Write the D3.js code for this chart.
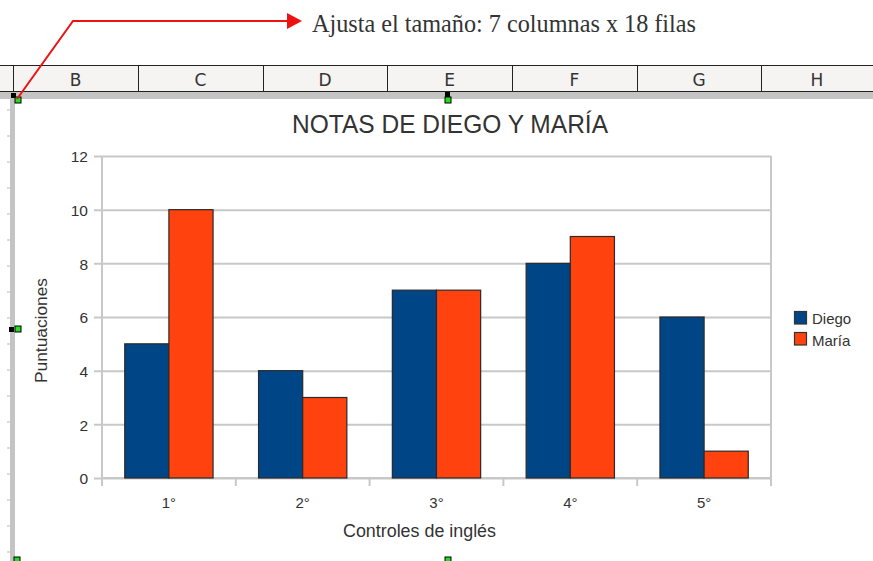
<!DOCTYPE html>
<html><head><meta charset="utf-8">
<script src="https://cdn.jsdelivr.net/npm/d3@7"></script>
<style>body{margin:0;background:#fff}svg{display:block}</style>
</head><body>
<svg id="c" width="873" height="561"></svg>
<script>
const categories = ["1°","2°","3°","4°","5°"];
const seriesNames = ["Diego","María"];
const diego = [5,4,7,8,6];
const maria = [10,3,7,9,1];
const yTicks = [0,2,4,6,8,10,12];
const columns = ["B","C","D","E","F","G","H"];
const colors = ["#004586","#ff420e"];

const svg = d3.select("#c");
const sans = "'Liberation Sans', Arial, sans-serif";

// spreadsheet column header
const colEdges = [13,138,263,387,512,637,761,873];
svg.append("rect").attr("x",0).attr("y",65).attr("width",873).attr("height",27).attr("fill","#f5f4f2");
svg.append("line").attr("x1",0).attr("x2",873).attr("y1",65.5).attr("y2",65.5).attr("stroke","#222");
svg.append("line").attr("x1",0).attr("x2",873).attr("y1",91.5).attr("y2",91.5).attr("stroke","#222");
colEdges.slice(0,7).forEach((x,i)=>{
  svg.append("line").attr("x1",x+0.5).attr("x2",x+0.5).attr("y1",65).attr("y2",92).attr("stroke","#222");
  svg.append("text").attr("x",(x+colEdges[i+1])/2).attr("y",86).attr("text-anchor","middle")
    .attr("font-family","'DejaVu Sans', sans-serif").attr("font-size",17).attr("fill","#333").text(columns[i]);
});
// chart frame grey bars
svg.append("rect").attr("x",0).attr("y",92).attr("width",873).attr("height",7).attr("fill","#c4c4c4");
svg.append("rect").attr("x",10).attr("y",92).attr("width",5).attr("height",469).attr("fill","#c4c4c4");
for(let y=110;y<561;y+=26){svg.append("line").attr("x1",7).attr("x2",10).attr("y1",y).attr("y2",y).attr("stroke","#bbb");}

// plot
const m = {l:102,r:771,t:156,b:478};
const x = d3.scaleBand().domain(categories).range([m.l,m.r]).paddingInner(0.34).paddingOuter(0.17);
const xs = d3.scaleBand().domain(seriesNames).range([0,x.bandwidth()]);
const y = d3.scaleLinear().domain([0,12]).range([m.b,m.t]);

// gridlines
const yAxis = d3.axisLeft(y).tickValues(yTicks).tickSize(m.r-m.l+8).tickPadding(6).tickFormat(d3.format("d"));
const gy = svg.append("g").attr("transform",`translate(${m.r},0)`).call(yAxis);
gy.select(".domain").remove();
gy.selectAll(".tick line").attr("stroke","#c8c8c8").attr("stroke-width",2);
gy.selectAll(".tick text").attr("font-family",sans).attr("font-size",15.5).attr("fill","#333").attr("dy","0.38em");
svg.append("line").attr("x1",m.l).attr("x2",m.l).attr("y1",m.t).attr("y2",m.b+8).attr("stroke","#c8c8c8").attr("stroke-width",2);
svg.append("line").attr("x1",m.r).attr("x2",m.r).attr("y1",m.t).attr("y2",m.b+8).attr("stroke","#c8c8c8").attr("stroke-width",2);

// x axis ticks at band boundaries
const edges = categories.map(c=>x(c)-x.step()*x.paddingInner()/2).concat([m.r]);
edges.forEach(e=>svg.append("line").attr("x1",e).attr("x2",e).attr("y1",m.b).attr("y2",m.b+8).attr("stroke","#c8c8c8").attr("stroke-width",2));
svg.append("line").attr("x1",m.l).attr("x2",m.r).attr("y1",m.b).attr("y2",m.b).attr("stroke","#c8c8c8").attr("stroke-width",2);
categories.forEach(c=>svg.append("text").attr("x",x(c)+x.bandwidth()/2).attr("y",m.b+30).attr("text-anchor","middle")
  .attr("font-family",sans).attr("font-size",15).attr("fill","#333").text(c));

// bars
const data = categories.map((c,i)=>({c, vals:[diego[i],maria[i]]}));
const g = svg.append("g");
data.forEach(d=>{
  d.vals.forEach((v,j)=>{
    g.append("rect").attr("x",x(d.c)+xs(seriesNames[j])).attr("y",y(v))
      .attr("width",xs.bandwidth()).attr("height",y(0)-y(v))
      .attr("fill",colors[j]).attr("stroke","#2a2a2a").attr("stroke-width",1.2);
  });
});

// titles
svg.append("text").attr("x",292).attr("y",133).attr("font-family",sans)
  .attr("font-size",26).attr("textLength",316).attr("lengthAdjust","spacingAndGlyphs")
  .attr("fill","#333").text("NOTAS DE DIEGO Y MARÍA");
svg.append("text").attr("transform","translate(47,383) rotate(-90)")
  .attr("font-family",sans).attr("font-size",16.5).attr("textLength",105).attr("lengthAdjust","spacingAndGlyphs")
  .attr("fill","#333").text("Puntuaciones");
svg.append("text").attr("x",343).attr("y",537).attr("font-family",sans)
  .attr("font-size",17.5).attr("textLength",153).attr("lengthAdjust","spacingAndGlyphs")
  .attr("fill","#333").text("Controles de inglés");

// legend
seriesNames.forEach((s,i)=>{
  svg.append("rect").attr("x",794.5).attr("y",311.5+i*21).attr("width",12).attr("height",12.5)
    .attr("fill",colors[i]).attr("stroke","#333").attr("stroke-width",1.2);
  svg.append("text").attr("x",812).attr("y",324+i*21.5).attr("font-family",sans).attr("font-size",15).attr("fill","#333").text(s);
});

// handles
function handle(xp,yp,bx,by){
  if(bx!==null) svg.append("rect").attr("x",bx).attr("y",by).attr("width",5).attr("height",5).attr("fill","#000");
  svg.append("rect").attr("x",xp).attr("y",yp).attr("width",6).attr("height",6).attr("fill","#22dd22").attr("stroke","#000").attr("stroke-width",1);
}
handle(15,97,11,93);
handle(445,97,445,92);
handle(15,326,9,327);
handle(14,557,null,null);
handle(445,557,null,null);

// annotation arrow
svg.append("path").attr("d","M17,99 L73,21 L288,21").attr("fill","none").attr("stroke","#ee1111").attr("stroke-width",2);
svg.append("path").attr("d","M287,13 L302,21 L287,29 Z").attr("fill","#ee1111");
svg.append("text").attr("x",312).attr("y",32).attr("font-family","'Liberation Serif', 'Times New Roman', serif")
  .attr("font-size",25).attr("textLength",384).attr("lengthAdjust","spacingAndGlyphs")
  .attr("fill","#333").text("Ajusta el tamaño: 7 columnas x 18 filas");
</script>
</body></html>
